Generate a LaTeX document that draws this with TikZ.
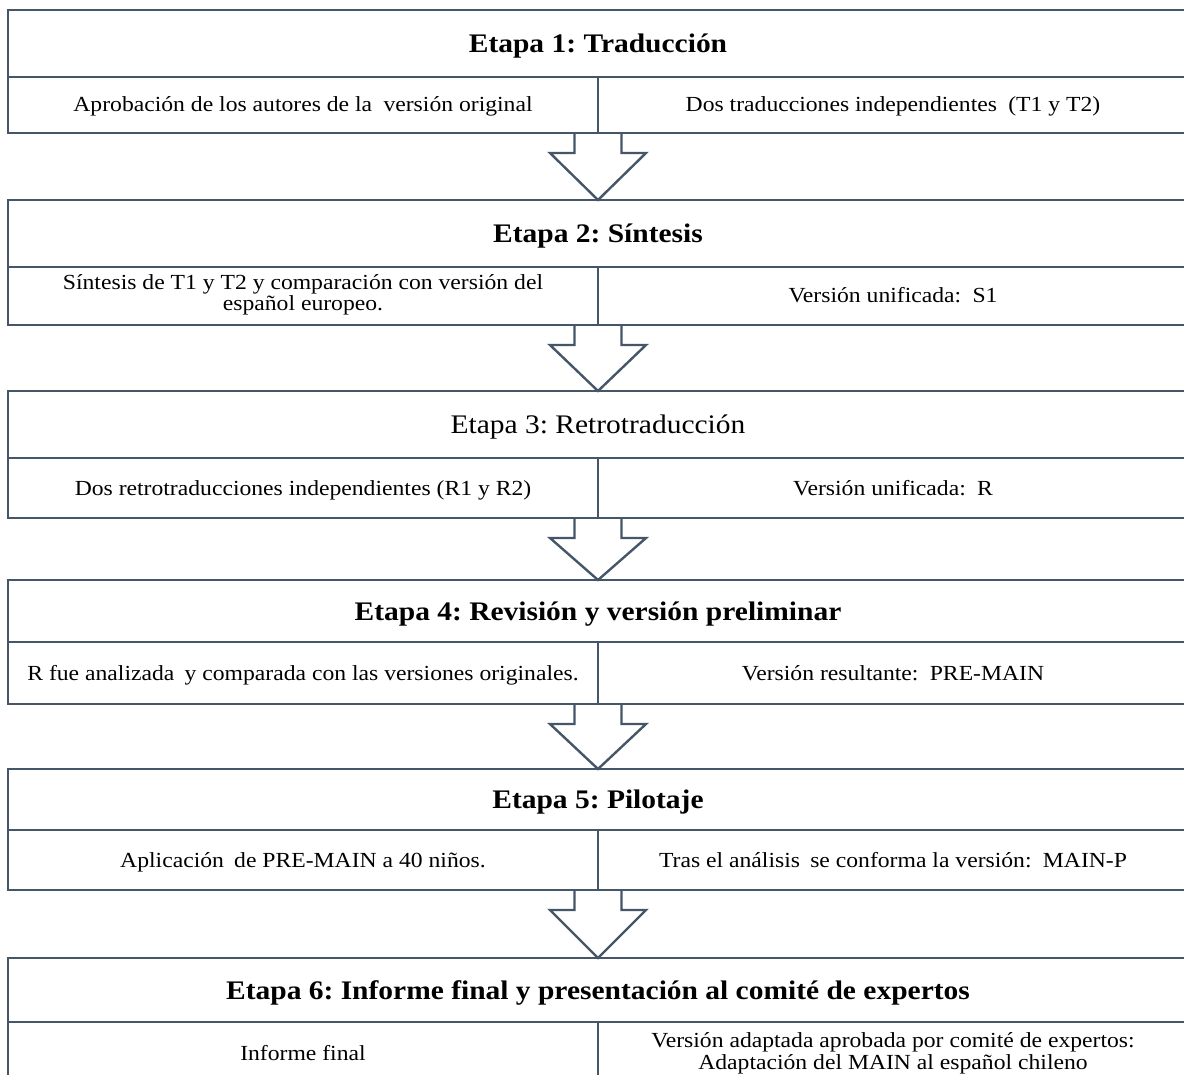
\documentclass[tikz,border=0pt]{standalone}
\usepackage{fontspec}
\setmainfont[FakeStretch=1.1]{Liberation Serif}
\usetikzlibrary{calc}
\definecolor{lc}{HTML}{465669}
\tikzset{
  boxline/.style={draw=lc, line width=2.8pt},
  blockarrow/.style={draw=lc, line width=2.4pt, fill=white, line join=miter},
  titletext/.style={font=\fontsize{26.8}{29}\selectfont\bfseries, inner sep=0pt, anchor=base},
  plaintitle/.style={font=\fontsize{26.8}{29}\selectfont, inner sep=0pt, anchor=base},
  celltext/.style={font=\fontsize{21.5}{22}\selectfont, inner sep=0pt, align=center, anchor=base},
  celltwo/.style={font=\fontsize{21.5}{21.5}\selectfont, inner sep=0pt, align=center},
}
\begin{document}
\frenchspacing
\begin{tikzpicture}[x=1pt,y=-1pt]
\useasboundingbox (0,0) rectangle (1184,1075);
\clip (0,0) rectangle (1184,1075);
\fill[white] (0,0) rectangle (1184,1075);

% stage geometry: top / separator / bottom
\foreach \i/\t/\s/\b in {1/10/77/133, 2/200/267/325, 3/391/458/518, 4/580/642/704, 5/769/830/890, 6/958/1022/1085}{
  \coordinate (top\i) at (598,\t);
  \coordinate (sep\i) at (598,\s);
  \coordinate (bot\i) at (598,\b);
  \coordinate (tc\i) at (598,{(\t+\s)/2+9});
  \coordinate (lc\i) at (303,{(\s+\b)/2+7});
  \coordinate (rc\i) at (893,{(\s+\b)/2+7});
  \coordinate (lm\i) at (303,{(\s+\b)/2-1});
  \coordinate (rm\i) at (893,{(\s+\b)/2});
}

% block arrows between stages
\foreach \i/\j in {1/2, 2/3, 3/4, 4/5, 5/6}{
  \draw[blockarrow] ($(bot\i)+(-23.5,0)$) -- ++(0,20) -- ++(-24.5,0) -- (top\j)
    -- ($(bot\i)+(48,20)$) -- ++(-24.5,0) -- ++(0,-20);
}

% boxes
\foreach \i in {1,...,6}{
  \draw[boxline] (top\i -| 8,0) rectangle (bot\i -| 1192,0);
  \draw[boxline] (sep\i -| 8,0) -- (sep\i -| 1192,0);
  \draw[boxline] (sep\i) -- (bot\i);
}

% texts
\node[titletext] (t1) at (tc1) {Etapa 1: Traducción};
\node[celltext] (l1) at (lc1) {Aprobación de los autores de la\hspace{0.25em} versión original};
\node[celltext] (r1) at (rc1) {Dos traducciones independientes\hspace{0.25em} (T1 y T2)};

\node[titletext] (t2) at (tc2) {Etapa 2: Síntesis};
\node[celltwo] (l2) at (lm2) {Síntesis de T1 y T2 y comparación con versión del\\español europeo.};
\node[celltext] (r2) at (rc2) {Versión unificada:\hspace{0.25em} S1};

\node[plaintitle] (t3) at (tc3) {Etapa 3: Retrotraducción};
\node[celltext] (l3) at (lc3) {Dos retrotraducciones independientes (R1 y R2)};
\node[celltext] (r3) at (rc3) {Versión unificada:\hspace{0.25em} R};

\node[titletext] (t4) at (tc4) {Etapa 4: Revisión y versión preliminar};
\node[celltext] (l4) at (lc4) {R fue analizada\hspace{0.2em} y comparada con las versiones originales.};
\node[celltext] (r4) at (rc4) {Versión resultante:\hspace{0.25em} PRE-MAIN};

\node[titletext] (t5) at (tc5) {Etapa 5: Pilotaje};
\node[celltext] (l5) at (lc5) {Aplicación\hspace{0.2em} de PRE-MAIN a 40 niños.};
\node[celltext] (r5) at (rc5) {Tras el análisis\hspace{0.2em} se conforma la versión:\hspace{0.25em} MAIN-P};

\node[titletext] (t6) at (tc6) {Etapa 6: Informe final y presentación al comité de expertos};
\node[celltext] (l6) at (lc6) {Informe final};
\node[celltwo] (r6) at (rm6) {Versión adaptada aprobada por comité de expertos:\\Adaptación del MAIN al español chileno};
\end{tikzpicture}
\end{document}
